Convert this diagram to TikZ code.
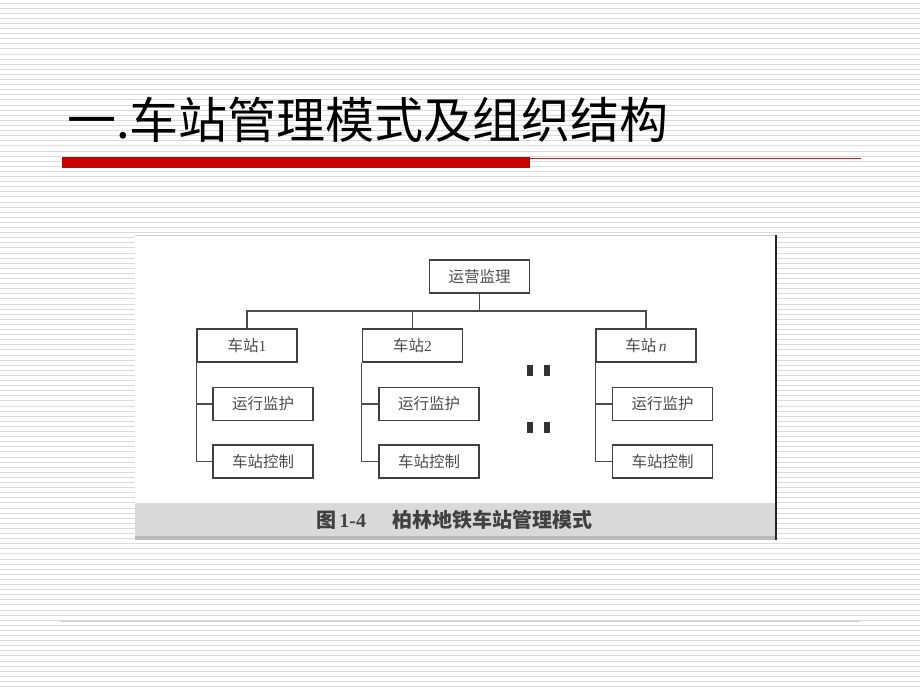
\documentclass[tikz,border=0pt]{standalone}
\usepackage{fontspec}
\setmainfont{Liberation Serif}
\newfontfamily\cjk{Noto Sans CJK SC}
\newcommand{\zh}[1]{{\cjk #1}}
\usetikzlibrary{positioning}

\definecolor{barred}{RGB}{200,0,0}
\definecolor{rulered}{RGB}{150,50,50}
\definecolor{stripe}{RGB}{218,218,218}

\tikzset{
    chartbox/.style={draw=black!75, line width=1.5pt, fill=white,
        minimum width=100pt, minimum height=33pt, inner sep=0pt,
        font=\fontsize{15.5}{15.5}\selectfont, text=black!70},
    link/.style={draw=black!70, line width=1.4pt},
}

\begin{document}
\begin{tikzpicture}[x=1pt,y=-1pt]
    \useasboundingbox (0,0) rectangle (920,690);

    % Slide background with thin horizontal stripes
    \fill[white] (0,0) rectangle (920,690);
    \foreach \i in {0,...,135}
        \draw[stripe, line width=0.8pt] (0,3+\i*5.1) -- (920,3+\i*5.1);

    % Title and rules
    \node[anchor=base west, inner sep=0pt, font=\cjk\fontsize{49}{49}\selectfont] (title) at (67,138) {一.车站管理模式及组织结构};
    \fill[barred] (62,157) rectangle (530,168);
    \draw[rulered, line width=1pt] (530,158) -- (861,158);
    \draw[red!10!gray!35, line width=1pt] (60,621) -- (860,621);

    % Figure panel
    \fill[white] (135,235) rectangle (776,540);
    \draw[gray!40, line width=0.8pt] (135,235) -- (776,235);
    \fill[gray!30] (135,503) rectangle (776,536);
    \fill[gray!55] (135,536) rectangle (776,540);
    \draw[black!85, line width=1.2pt] (776,235) -- (776,540);
    \node[font=\bfseries\fontsize{20}{20}\selectfont, text=black!75] (caption) at (454,520)
        {{\cjk 图}\,1-4\hspace{1.3em}{\cjk 柏林地铁车站管理模式}};

    % Top level
    \node[chartbox] (top) at (479.5,276.5) {\zh{运营监理}};

    % Stations
    \node[chartbox] (st1) at (247,345.5) {\zh{车站}1};
    \node[chartbox] (st2) at (412.5,345.5) {\zh{车站}2};
    \node[chartbox] (stn) at (646,345.5) {\zh{车站}\,\textit{n}};

    % Tasks of each station
    \node[chartbox, below=24pt of st1, xshift=16pt] (mon1) {\zh{运行监护}};
    \node[chartbox, below=23pt of mon1] (ctl1) {\zh{车站控制}};
    \node[chartbox, below=24pt of st2, xshift=16.5pt] (mon2) {\zh{运行监护}};
    \node[chartbox, below=23pt of mon2] (ctl2) {\zh{车站控制}};
    \node[chartbox, below=24pt of stn, xshift=16.5pt] (monn) {\zh{运行监护}};
    \node[chartbox, below=23pt of monn] (ctln) {\zh{车站控制}};

    % Bus from top level to stations
    \coordinate (bus) at (0,311);
    \draw[link] (st1.north) -- (st1.north |- bus) -- (stn.north |- bus) -- (stn.north);
    \draw[link] (top.south) -- (top.south |- bus);
    \draw[link] (st2.north) -- (st2.north |- bus);

    % Trunks from stations to tasks
    \draw[link] (st1.south west) |- (ctl1.west);
    \draw[link] (st1.south west |- mon1.west) -- (mon1.west);
    \draw[link] (st2.south west) |- (ctl2.west);
    \draw[link] (st2.south west |- mon2.west) -- (mon2.west);
    \draw[link] (stn.south west) |- (ctln.west);
    \draw[link] (stn.south west |- monn.west) -- (monn.west);

    % Ellipsis marks between stations
    \foreach \y in {365,422} {
        \fill[black!80] (527,\y) rectangle (533,\y+11);
        \fill[black!80] (544,\y) rectangle (550,\y+11);
    }
\end{tikzpicture}
\end{document}
